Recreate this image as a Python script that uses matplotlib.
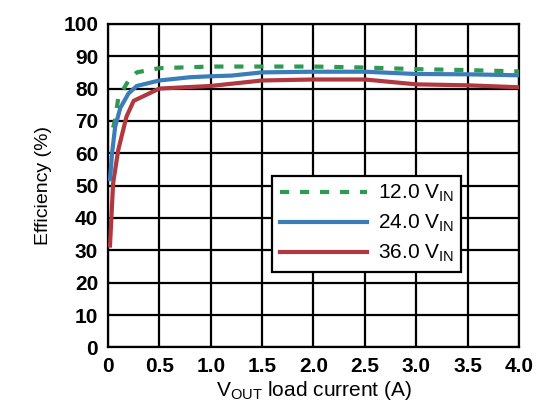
import matplotlib
matplotlib.use("Agg")
import matplotlib.pyplot as plt

# 읽어낸 값 (부하 전류 A, 효율 %)
x_12v = [0.05, 0.07, 0.1, 0.2, 0.28, 0.5, 1.0, 1.5, 2.0, 2.5, 3.0, 3.5, 4.0]
eff_12v = [67.9, 70.5, 77.0, 82.5, 85.0, 86.3, 86.8, 86.8, 86.8, 86.5, 86.0, 85.7, 85.3]

x_24v = [0.02, 0.04, 0.07, 0.12, 0.2, 0.28, 0.5, 0.8, 1.0, 1.2, 1.5, 2.0, 2.5, 3.0, 3.5, 4.0]
eff_24v = [52.0, 60.0, 68.2, 74.0, 78.5, 80.8, 82.5, 83.5, 83.8, 84.0, 85.0, 85.2, 85.2, 84.5, 84.4, 84.1]

x_36v = [0.02, 0.05, 0.1, 0.18, 0.25, 0.5, 1.0, 1.5, 2.0, 2.5, 3.0, 3.5, 4.0]
eff_36v = [31.5, 50.7, 61.0, 71.3, 76.2, 80.0, 80.8, 82.5, 82.8, 82.8, 81.3, 81.0, 80.4]

x_ticks = [0, 0.5, 1.0, 1.5, 2.0, 2.5, 3.0, 3.5, 4.0]
x_tick_labels = ["0", "0.5", "1.0", "1.5", "2.0", "2.5", "3.0", "3.5", "4.0"]
y_ticks = [0, 10, 20, 30, 40, 50, 60, 70, 80, 90, 100]
legend_labels = [r"12.0 V$_{\mathregular{IN}}$", r"24.0 V$_{\mathregular{IN}}$", r"36.0 V$_{\mathregular{IN}}$"]

plt.rcParams['font.family'] = ['Liberation Sans', 'DejaVu Sans']
plt.rcParams['mathtext.default'] = 'regular'

fig = plt.figure(figsize=(5.48, 4.04), dpi=100)
ax = fig.add_axes([0.197, 0.14, 0.75, 0.801])

ax.plot(x_12v, eff_12v, color='#2e9a50', lw=3, ls=(0, (2.2, 2.6)), label=legend_labels[0], zorder=3)
ax.plot(x_24v, eff_24v, color='#3b7db8', lw=3, label=legend_labels[1], zorder=4)
ax.plot(x_36v, eff_36v, color='#b0383e', lw=3, label=legend_labels[2], zorder=3)

ax.set_xlim(0, 4.0)
ax.set_ylim(0, 100)
ax.set_xticks(x_ticks)
ax.set_xticklabels(x_tick_labels)
ax.set_yticks(y_ticks)
ax.tick_params(length=0, labelsize=15, pad=7)
for lab in ax.get_xticklabels() + ax.get_yticklabels():
    lab.set_fontweight('bold')

ax.grid(True, color='black', lw=1.6)
ax.set_axisbelow(True)
for sp in ax.spines.values():
    sp.set_linewidth(1.6)
    sp.set_color('black')

ax.set_ylabel("Efficiency (%)", fontsize=14, labelpad=8)
ax.set_xlabel(r"V$_{\mathregular{OUT}}$ load current (A)", fontsize=15, labelpad=2)

leg = ax.legend(loc='upper left', bbox_to_anchor=(0.40, 0.531), fontsize=15,
                handlelength=4.2, handletextpad=0.5, fancybox=False,
                framealpha=1, edgecolor='black', borderpad=0.35, labelspacing=0.42,
                borderaxespad=0)
leg.get_frame().set_linewidth(1.6)

plt.savefig("out.png", dpi=100)
